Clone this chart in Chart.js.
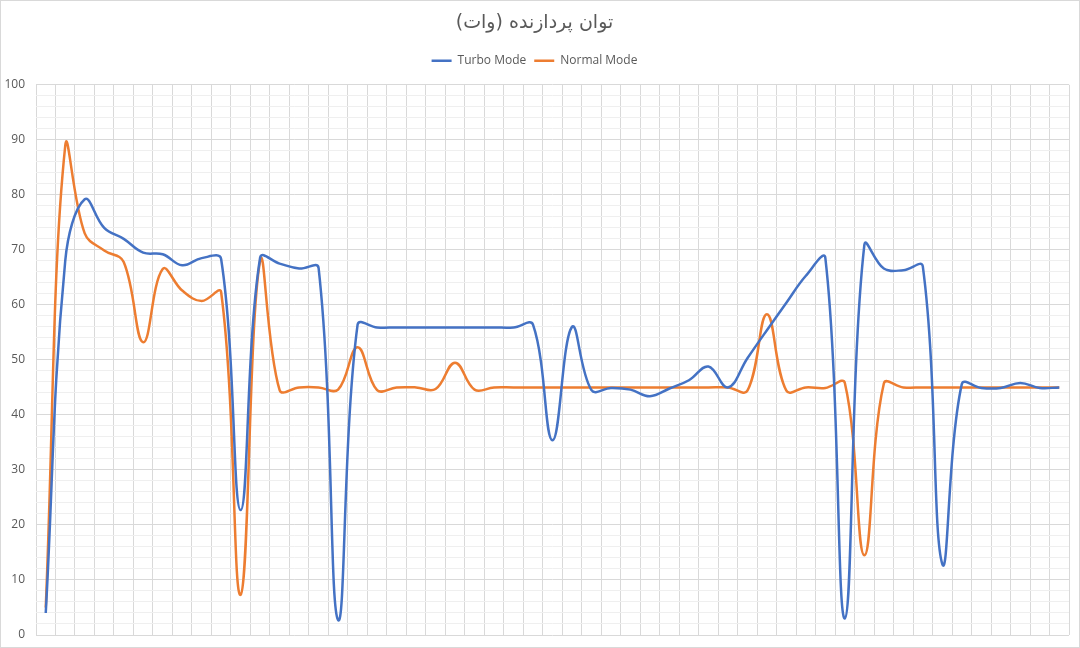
<!DOCTYPE html>
<html>
<head>
<meta charset="utf-8">
<script src="https://cdn.jsdelivr.net/npm/chart.js@4.4.1/dist/chart.umd.min.js"></script>
<style>
  html, body { margin: 0; padding: 0; background: #fff; }
  #wrap { position: relative; width: 1080px; height: 648px; }
  #frame { position: absolute; left: 0; top: 0; width: 1080px; height: 648px; box-sizing: border-box; border: 1px solid #d9d9d9; pointer-events: none; }
</style>
</head>
<body>
<div id="wrap">
  <canvas id="powerChart" width="1080" height="648"></canvas>
  <div id="frame"></div>
</div>
<script>
// data
var categories = [];
for (var i = 1; i <= 53; i++) categories.push(String(i));

var turbo = [4, 68, 79.2, 74, 72, 69.5, 69.2, 67.2, 68.5, 68.3,
  22.7, 68.6, 67.5, 66.6, 66.7, 2.7, 56.4, 55.9, 55.9, 55.9,
  55.9, 55.9, 55.9, 55.9, 55.9, 56.4, 35.4, 56, 44.5, 44.9,
  44.6, 43.4, 44.8, 46.3, 48.8, 45, 50.3, 55.4, 60.4, 65.3,
  68.5, 3, 70.9, 66.6, 66.3, 67, 12.9, 45.6, 44.9, 44.9,
  45.8, 44.9, 45];

var normal = [5, 88.9, 73, 69.9, 67.8, 53.2, 66.5, 62.6, 60.7, 62.3,
  7.3, 68, 44.5, 45, 45, 44.6, 52.3, 44.5, 45, 45,
  44.7, 49.5, 44.6, 45, 45, 45, 45, 45, 45, 45,
  45, 45, 45, 45, 45, 45, 44.4, 58.3, 44.4, 45,
  44.9, 45.8, 14.5, 45.7, 45, 45, 45, 45, 45, 45,
  45, 45, 45];

var yTicks = [0, 10, 20, 30, 40, 50, 60, 70, 80, 90, 100];

var chartTitle = 'توان پردازنده (وات)';

// empty box that pushes the plot area down under the legend
var spacer = {
  id: 'spacer',
  beforeInit: function(chart) {
    Chart.layouts.addBox(chart, {
      position: 'top', weight: 0, fullSize: true, options: {},
      top: 0, left: 0, right: 0, bottom: 0, width: 0, height: 0,
      isHorizontal: function() { return true; },
      update: function(maxWidth) { this.width = maxWidth; this.height = 8; },
      draw: function() {}
    });
  }
};

var ctx = document.getElementById('powerChart').getContext('2d');
var powerChart = new Chart(ctx, {
  type: 'line',
  data: {
    labels: categories,
    datasets: [
      {
        label: 'Turbo Mode',
        data: turbo,
        borderColor: '#4472C4',
        backgroundColor: '#4472C4',
        borderWidth: 2.5,
        pointRadius: 0,
        tension: 0.4,
        xAxisID: 'x'
      },
      {
        label: 'Normal Mode',
        data: normal,
        borderColor: '#ED7D31',
        backgroundColor: '#ED7D31',
        borderWidth: 2.5,
        pointRadius: 0,
        tension: 0.4,
        xAxisID: 'x'
      }
    ]
  },
  options: {
    responsive: false,
    animation: false,
    layout: { padding: { left: 0, right: 11, top: 0, bottom: 13 } },
    plugins: {
      title: {
        display: true,
        text: chartTitle,
        color: '#595959',
        font: { family: 'DejaVu Sans', size: 19, weight: 'normal' },
        padding: { top: 12, bottom: 12 }
      },
      legend: {
        display: true,
        labels: {
          color: '#595959',
          font: { family: 'Open Sans', size: 12 },
          usePointStyle: true,
          pointStyle: 'line',
          pointStyleWidth: 20,
          padding: 8
        }
      },
      tooltip: { enabled: false }
    },
    scales: {
      x: {
        type: 'category',
        offset: true,
        grid: { offset: true, color: '#d9d9d9', drawTicks: false },
        border: { display: false },
        ticks: { display: false },
        afterFit: function(scale) { scale.height = 0; }
      },
      xMinor: {
        type: 'linear',
        position: 'bottom',
        min: -0.5,
        max: categories.length - 0.5,
        grid: {
          drawTicks: false,
          color: function(c) { return Number.isInteger(c.tick.value) ? '#f2f2f2' : 'rgba(0,0,0,0)'; }
        },
        border: { display: false },
        ticks: { display: false, stepSize: 1 },
        afterFit: function(scale) { scale.height = 0; }
      },
      y: {
        min: 0,
        max: 100,
        grid: {
          drawTicks: true,
          tickLength: 11,
          tickColor: 'rgba(0,0,0,0)',
          color: function(c) { return yTicks.indexOf(c.tick.value) >= 0 ? '#d9d9d9' : '#efefef'; }
        },
        border: { display: false },
        ticks: {
          stepSize: 2,
          autoSkip: false,
          padding: 0,
          color: '#595959',
          font: { family: 'Open Sans', size: 12 },
          callback: function(v) { return yTicks.indexOf(v) >= 0 ? v : ''; }
        },
        afterFit: function(scale) { scale.width = 36; }
      }
    }
  },
  plugins: [spacer]
});
</script>
</body>
</html>
